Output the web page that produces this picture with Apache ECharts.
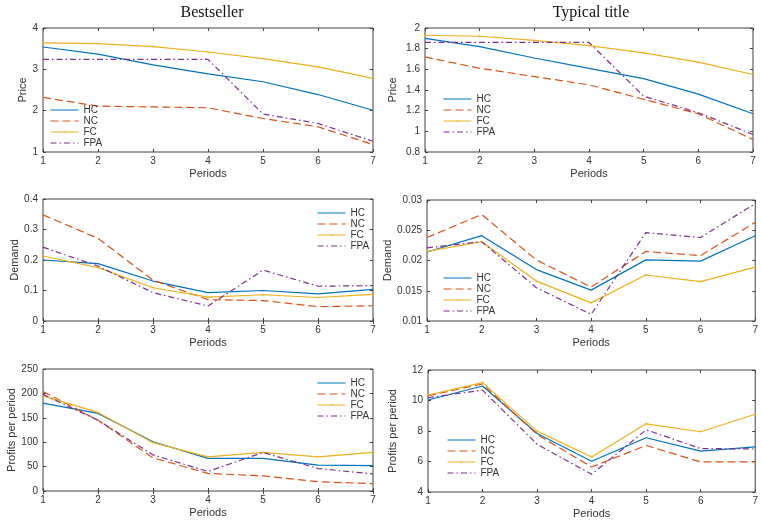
<!DOCTYPE html>
<html>
<head>
<meta charset="utf-8">
<script src="https://cdn.jsdelivr.net/npm/echarts@6/dist/echarts.min.js"></script>
<style>html,body{margin:0;padding:0;background:#fff;}#c{width:761px;height:527px;}</style>
</head>
<body>
<div id="c"></div>
<script>
const periods = [1, 2, 3, 4, 5, 6, 7];
const seriesNames = ['HC', 'NC', 'FC', 'FPA'];
const colTitles = ['Bestseller', 'Typical title'];
const rowNames = ['Price', 'Demand', 'Profits per period'];

// Bestseller - Price
const bestPriceHC  = [3.54, 3.37, 3.11, 2.89, 2.70, 2.39, 2.01];
const bestPriceNC  = [2.32, 2.11, 2.09, 2.07, 1.81, 1.61, 1.18];
const bestPriceFC  = [3.64, 3.62, 3.55, 3.42, 3.26, 3.06, 2.78];
const bestPriceFPA = [3.24, 3.24, 3.24, 3.24, 1.92, 1.69, 1.26];
// Typical - Price
const typPriceHC  = [1.90, 1.82, 1.71, 1.61, 1.51, 1.36, 1.17];
const typPriceNC  = [1.72, 1.61, 1.53, 1.45, 1.31, 1.17, 0.92];
const typPriceFC  = [1.93, 1.92, 1.88, 1.83, 1.76, 1.67, 1.55];
const typPriceFPA = [1.86, 1.86, 1.86, 1.86, 1.34, 1.18, 0.97];
// Bestseller - Demand
const bestDemHC  = [0.200, 0.188, 0.131, 0.093, 0.100, 0.089, 0.104];
const bestDemNC  = [0.348, 0.271, 0.134, 0.070, 0.067, 0.047, 0.050];
const bestDemFC  = [0.213, 0.175, 0.109, 0.078, 0.086, 0.077, 0.087];
const bestDemFPA = [0.242, 0.180, 0.093, 0.049, 0.167, 0.114, 0.116];
// Typical - Demand
const typDemHC  = [0.0214, 0.0241, 0.0185, 0.0151, 0.0201, 0.0199, 0.0241];
const typDemNC  = [0.0238, 0.0276, 0.0201, 0.0156, 0.0215, 0.0208, 0.0263];
const typDemFC  = [0.0215, 0.0231, 0.0166, 0.0130, 0.0176, 0.0165, 0.0189];
const typDemFPA = [0.0221, 0.0231, 0.0155, 0.0111, 0.0246, 0.0238, 0.0294];
// Bestseller - Profits
const bestProfHC  = [180, 159, 101, 67, 67, 53, 52];
const bestProfNC  = [204, 145, 68, 36, 31, 19, 15];
const bestProfFC  = [195, 161, 99, 70, 79, 70, 79];
const bestProfFPA = [198, 145, 74, 40, 79, 46, 35];
// Typical - Profits
const typProfHC  = [10.03, 10.95, 7.84, 6.02, 7.56, 6.68, 6.96];
const typProfNC  = [10.31, 11.08, 7.77, 5.64, 7.05, 5.97, 5.97];
const typProfFC  = [10.36, 11.17, 7.99, 6.30, 8.47, 7.95, 9.10];
const typProfFPA = [10.18, 10.68, 7.13, 5.16, 8.08, 6.85, 6.82];

// y-axis ranges per panel
const yMin = [1, 0.8, 0, 0.01, 0, 4];
const yMax = [4, 2, 0.4, 0.03, 250, 12];
const yStep = [1, 0.2, 0.1, 0.005, 50, 2];

const panelData = [
  [bestPriceHC, bestPriceNC, bestPriceFC, bestPriceFPA],
  [typPriceHC, typPriceNC, typPriceFC, typPriceFPA],
  [bestDemHC, bestDemNC, bestDemFC, bestDemFPA],
  [typDemHC, typDemNC, typDemFC, typDemFPA],
  [bestProfHC, bestProfNC, bestProfFC, bestProfFPA],
  [typProfHC, typProfNC, typProfFC, typProfFPA]
];

// layout
const grids = [
  {left: 43, top: 28, w: 330, h: 124},
  {left: 425, top: 28, w: 328, h: 124},
  {left: 43, top: 199, w: 330, h: 122},
  {left: 427, top: 200, w: 329, h: 121},
  {left: 43, top: 369, w: 330, h: 122},
  {left: 428, top: 370, w: 332, h: 122}
];
const yNameGap = [6, 27, 14, 23, 15, 30];
const legendPos = [
  {left: 50, top: 105},
  {left: 443, top: 94},
  {left: 317, top: 208},
  {left: 443, top: 273},
  {left: 317, top: 378},
  {left: 447, top: 435}
];

const colors = ['#0072BD', '#D95319', '#EDB120', '#7E2F8E'];
const dashes = ['solid', [8, 4], 'solid', [6, 3, 1.5, 3]];
const plusPath = 'path://M0,0L0.1,0L0,0.1Z M24,24L23.9,24L24,23.9Z M11.5,8H12.5V11.5H16V12.5H12.5V16H11.5V12.5H8V11.5H11.5Z';

const txt = '#333';
const axisCol = '#404040';

function fmt(v) {
  return String(parseFloat(v.toFixed(4)));
}

const option = {
  animation: false,
  backgroundColor: '#fff',
  title: [
    {text: colTitles[0], left: 207, top: 0, textAlign: 'center',
     textStyle: {fontFamily: 'Liberation Serif', fontSize: 16, fontWeight: 'normal', color: '#111'}},
    {text: colTitles[1], left: 586, top: 0, textAlign: 'center',
     textStyle: {fontFamily: 'Liberation Serif', fontSize: 16, fontWeight: 'normal', color: '#111'}}
  ],
  grid: [], xAxis: [], yAxis: [], legend: [], series: []
};

grids.forEach((g, i) => {
  option.grid.push({left: g.left, top: g.top, width: g.w, height: g.h,
    show: true, borderColor: axisCol, borderWidth: 1, backgroundColor: 'transparent'});
  const xBase = {
    type: 'value', gridIndex: i, min: 1, max: 7, interval: 1,
    splitLine: {show: false}, axisLine: {show: false},
    axisTick: {inside: true, length: 3, lineStyle: {color: axisCol}}
  };
  option.xAxis.push(Object.assign({}, xBase, {
    position: 'bottom', name: 'Periods', nameLocation: 'middle', nameGap: 16,
    nameTextStyle: {fontFamily: 'Liberation Sans', fontSize: 11, color: txt},
    axisLabel: {margin: 4, fontFamily: 'Liberation Sans', fontSize: 10, color: txt}
  }));
  option.xAxis.push(Object.assign({}, xBase, {position: 'top', axisLabel: {show: false}}));
  const yBase = {
    type: 'value', gridIndex: i, min: yMin[i], max: yMax[i], interval: yStep[i],
    splitLine: {show: false}, axisLine: {show: false},
    axisTick: {inside: true, length: 3, lineStyle: {color: axisCol}}
  };
  option.yAxis.push(Object.assign({}, yBase, {
    position: 'left', name: rowNames[Math.floor(i / 2)], nameLocation: 'middle', nameGap: yNameGap[i],
    nameTextStyle: {fontFamily: 'Liberation Sans', fontSize: 11, color: txt},
    axisLabel: {margin: 5, fontFamily: 'Liberation Sans', fontSize: 10, color: txt, formatter: fmt}
  }));
  option.yAxis.push(Object.assign({}, yBase, {position: 'right', axisLabel: {show: false}}));

  option.legend.push({
    orient: 'vertical', left: legendPos[i].left, top: legendPos[i].top,
    padding: 0, itemWidth: 28, itemHeight: 10, itemGap: 1,
    lineStyle: {width: 1},
    data: seriesNames.map((n, k) => k === 2 ? {name: n} : {name: n, itemStyle: {opacity: 0}}),
    selectedMode: false,
    textStyle: {fontFamily: 'Liberation Sans', fontSize: 10, color: txt}
  });

  seriesNames.forEach((name, k) => {
    const vals = panelData[i][k];
    option.series.push({
      type: 'line', name: name,
      xAxisIndex: 2 * i, yAxisIndex: 2 * i,
      data: periods.map((p, j) => [p, vals[j]]),
      symbol: k === 2 ? plusPath : 'none',
      symbolSize: 10,
      showSymbol: k === 2,
      itemStyle: {color: colors[k]},
      lineStyle: {color: colors[k], width: 1.2, type: dashes[k]},
      emphasis: {disabled: true},
      z: 2
    });
  });
});

const chart = echarts.init(document.getElementById('c'), null, {renderer: 'canvas'});
chart.setOption(option);
</script>
</body>
</html>
